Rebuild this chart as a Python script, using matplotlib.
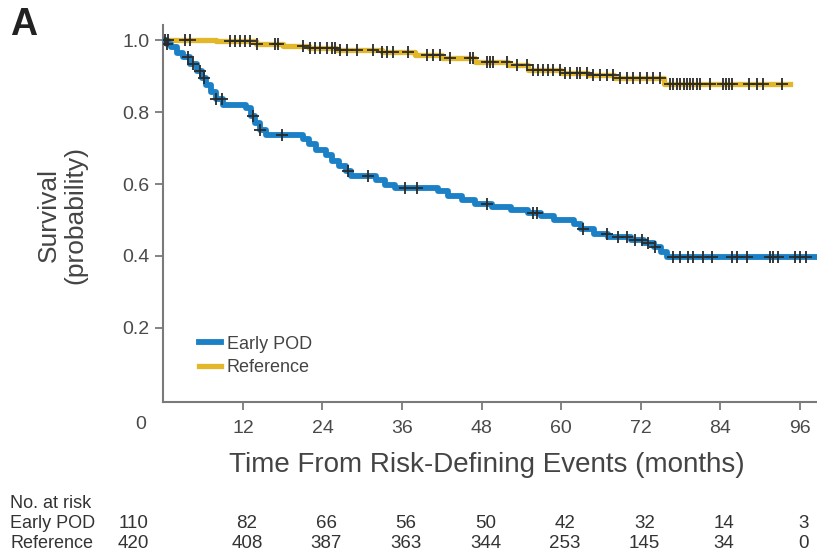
import numpy as np
import matplotlib
matplotlib.use('Agg')
from matplotlib import pyplot as plt
from matplotlib import transforms

plt.rcParams['font.family'] = ['Liberation Sans', 'DejaVu Sans']

# Kaplan-Meier step data (months, survival probability)
pod_times = [0, 0.5, 1.2, 2, 3, 4, 5, 5.8, 6.5, 7.2, 8, 9, 12.5, 13.2, 13.8, 14.5, 15.5,
             21, 22, 23, 24.5, 25.5, 26.5, 27.5, 28.3, 32, 33.5, 35, 41.5, 43, 45, 47,
             49.5, 52.5, 55, 57, 59, 62, 63, 65, 67, 70.5, 72.5, 74, 75, 76, 98.6]
pod_surv = [1.0, 0.99, 0.98, 0.965, 0.952, 0.935, 0.915, 0.895, 0.875, 0.855, 0.835, 0.82,
            0.81, 0.79, 0.77, 0.75, 0.735, 0.725, 0.71, 0.695, 0.68, 0.665, 0.65, 0.635,
            0.622, 0.61, 0.598, 0.59, 0.58, 0.568, 0.556, 0.545, 0.535, 0.527, 0.52, 0.51,
            0.5, 0.49, 0.475, 0.462, 0.452, 0.444, 0.436, 0.425, 0.41, 0.396, 0.396]
pod_censor = [0.5, 3.7, 4.5, 5.5, 6.2, 8.0, 8.8, 13.5, 14.5, 17.9, 27.9, 30.9, 36.4, 38.2,
              48.8, 55.7, 56.3, 63.3, 66.9, 68.6, 69.9, 71.1, 72.2, 73.1, 74.1, 76.9, 77.9,
              79.1, 79.9, 81.4, 82.8, 85.8, 86.5, 88.0, 91.5, 92.0, 92.7, 95.3, 96.0, 97.0]

ref_times = [0, 8, 14, 18, 22, 26, 33, 38, 42, 47, 52, 55, 60, 64, 68, 75.5, 94.5]
ref_surv = [1.0, 0.997, 0.99, 0.985, 0.978, 0.972, 0.966, 0.958, 0.95, 0.94, 0.93, 0.918,
            0.91, 0.902, 0.896, 0.877, 0.877]
ref_censor = [0.3, 0.7, 3.3, 4.0, 10.0, 10.8, 11.5, 12.3, 13.0, 14.1, 16.8, 17.3, 21.1, 22.1,
              22.9, 23.6, 24.7, 25.4, 25.9, 26.6, 27.7, 29.2, 31.6, 33.0, 33.7, 34.6, 36.9,
              39.8, 40.7, 41.7, 43.2, 46.3, 46.7, 48.8, 49.3, 49.7, 51.8, 53.3, 54.8, 55.7,
              56.5, 57.2, 58.0, 58.8, 59.8, 60.6, 61.3, 62.4, 62.8, 63.9, 64.8, 65.9, 66.9,
              67.8, 68.9, 69.9, 70.8, 71.9, 72.9, 73.9, 74.9, 76.4, 76.9, 77.5, 77.9, 78.5,
              79.0, 79.4, 79.9, 80.5, 80.9, 82.4, 84.4, 84.8, 85.4, 85.8, 88.4, 89.5, 90.4, 93.3]

risk_months = [0, 12, 24, 36, 48, 60, 72, 84, 96]
risk_pod = [110, 82, 66, 56, 50, 42, 32, 14, 3]
risk_ref = [420, 408, 387, 363, 344, 253, 145, 34, 0]

blue = '#1b80c6'
gold = '#e2b82a'


def step_value(times, surv, t):
    i = np.searchsorted(times, t, side='right') - 1
    return np.asarray(surv)[i]


fig = plt.figure(figsize=(8.17, 5.56), dpi=100)
ax = fig.add_axes([0.2, 0.277, 0.8, 0.678])

ax.step(ref_times, ref_surv, where='post', color=gold, lw=3.8, label='Reference', zorder=2)
ax.step(pod_times, pod_surv, where='post', color=blue, lw=4.2, label='Early POD', zorder=3)
ax.plot(ref_censor, step_value(ref_times, ref_surv, ref_censor), '+', color='#2a2a2a',
        ms=9, mew=1.3, zorder=4)
ax.plot(pod_censor, step_value(pod_times, pod_surv, pod_censor), '+', color='#2a2a2a',
        ms=9, mew=1.3, zorder=4)

ax.set_xlim(0, 98.6)
ax.set_ylim(-0.006, 1.042)
ax.set_xticks(risk_months[1:])
ax.set_yticks([0.2, 0.4, 0.6, 0.8, 1.0])
ax.set_yticklabels(['0.2', '0.4', '0.6', '0.8', '1.0'])
for s in ['top', 'right']:
    ax.spines[s].set_visible(False)
for s in ['left', 'bottom']:
    ax.spines[s].set_color('#7a7a7a')
    ax.spines[s].set_linewidth(1.5)
ax.tick_params(axis='both', colors='#7a7a7a', width=1.3, length=6, labelsize=14,
               labelcolor='#4a4a4a')
ax.tick_params(axis='x', pad=7)
ax.tick_params(axis='y', pad=4)

# origin label
ax.text(-3.4, -0.068, '0', ha='center', va='center', fontsize=14, color='#4a4a4a',
        clip_on=False)

ax.set_xlabel('Time From Risk-Defining Events (months)', fontsize=20, color='#444444', va='center')
ax.xaxis.set_label_coords(0.495, -0.167)
ax.set_ylabel('Survival\n(probability)', fontsize=19, color='#444444', va='center',
              linespacing=1.15)
ax.yaxis.set_label_coords(-0.155, 0.496)

handles, labels = ax.get_legend_handles_labels()
ax.legend(handles[::-1], labels[::-1], loc='lower left', bbox_to_anchor=(0.04, 0.045),
          frameon=False, fontsize=13, handlelength=1.25, handletextpad=0.3,
          labelspacing=0.35, borderpad=0, labelcolor='#444444')

fig.text(10 / 817, 1 - 35 / 556, 'A', fontsize=27, fontweight='bold', color='#222222',
         va='baseline')

# number at risk table
tr = transforms.blended_transform_factory(ax.transData, fig.transFigure)
fig.text(10 / 817, 1 - 503 / 556, 'No. at risk', fontsize=13, color='#333333', va='center')
fig.text(10 / 817, 1 - 523 / 556, 'Early POD', fontsize=13, color='#333333', va='center')
fig.text(10 / 817, 1 - 543 / 556, 'Reference', fontsize=13, color='#333333', va='center')
for m, a, b in zip(risk_months, risk_pod, risk_ref):
    xpos = m + 0.6 if m > 0 else -4.5
    ax.text(xpos, 1 - 523 / 556, str(a), transform=tr, ha='center', va='center',
            fontsize=13.5, color='#333333', clip_on=False)
    ax.text(xpos, 1 - 543 / 556, str(b), transform=tr, ha='center', va='center',
            fontsize=13.5, color='#333333', clip_on=False)

fig.savefig('out.png', dpi=100)
